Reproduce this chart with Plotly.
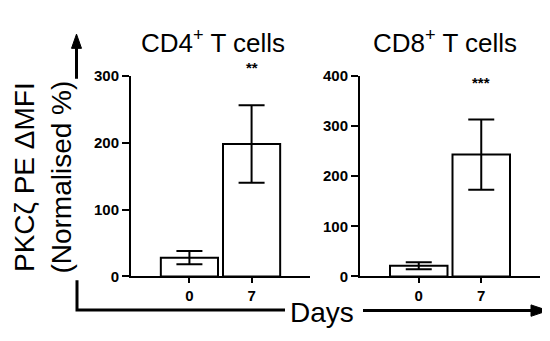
import plotly.graph_objects as go

# ---- data ----
days = ["0", "7"]
cd4_mean = [28, 198]
cd4_sem = [10, 58]
cd8_mean = [21, 243]
cd8_sem = [7, 70]
cd4_ticks = [0, 100, 200, 300]
cd8_ticks = [0, 100, 200, 300, 400]
cd4_sig = "**"
cd8_sig = "***"

W, H = 550, 341
FONT = "Liberation Sans, Arial, sans-serif"


def px(x):
    return x / W


def py(y):
    return 1 - y / H


fig = go.Figure()

bar_style = dict(marker=dict(color="white", line=dict(color="black", width=2)),
                 showlegend=False, hoverinfo="skip")
err_style = dict(type="data", visible=True, color="black", thickness=2, width=13)

fig.add_trace(go.Bar(x=days, y=cd4_mean, xaxis="x", yaxis="y",
                     error_y=dict(array=cd4_sem, **err_style), **bar_style))
fig.add_trace(go.Bar(x=days, y=cd8_mean, xaxis="x2", yaxis="y2",
                     error_y=dict(array=cd8_sem, **err_style), **bar_style))

tickfont = dict(family=FONT, size=15, color="black", weight="bold")
xcommon = dict(type="category", range=[-0.94, 1.94], showline=True, linecolor="black",
               linewidth=2, ticks="outside", ticklen=5, tickwidth=2, tickcolor="black",
               showgrid=False, zeroline=False, tickfont=tickfont)
ycommon = dict(showline=True, linecolor="black", linewidth=2, ticks="outside",
               ticklen=7, tickwidth=2, tickcolor="black", showgrid=False, zeroline=False,
               domain=[py(273), py(62)], ticklabelstandoff=0, tickfont=tickfont)

fig.update_layout(
    width=W, height=H,
    margin=dict(l=0, r=0, t=0, b=0),
    paper_bgcolor="white", plot_bgcolor="white",
    bargap=0.08,
    xaxis=dict(domain=[px(123), px(302)], anchor="y", **xcommon),
    yaxis=dict(range=[0, 300], tickvals=cd4_ticks, anchor="x", **ycommon),
    xaxis2=dict(domain=[px(352), px(532)], anchor="y2", **xcommon),
    yaxis2=dict(range=[0, 400], tickvals=cd8_ticks, anchor="x2", **ycommon),
)

sig_idx = days.index("7")

ann = []
# panel titles
ann.append(dict(text="CD4<sup>+</sup> T cells", xref="paper", yref="paper",
                x=px(205), y=py(26), xanchor="center", yanchor="middle", showarrow=False,
                font=dict(family=FONT, size=26, color="black")))
ann.append(dict(text="CD8<sup>+</sup> T cells", xref="paper", yref="paper",
                x=px(437), y=py(26), xanchor="center", yanchor="middle", showarrow=False,
                font=dict(family=FONT, size=26, color="black")))
# y title
ann.append(dict(text="PKCζ PE ΔMFI<br>(Normalised %)", xref="paper", yref="paper",
                x=px(35), y=py(168), xanchor="center", yanchor="middle", showarrow=False,
                textangle=-90, font=dict(family=FONT, size=28, color="black")))
# x title
ann.append(dict(text="Days", xref="paper", yref="paper",
                x=px(314), y=py(311), xanchor="center", yanchor="middle", showarrow=False,
                font=dict(family=FONT, size=28, color="black")))
# significance stars
ann.append(dict(text=cd4_sig, xref="x", yref="y", x=sig_idx, y=291, yshift=14,
                xanchor="center", yanchor="middle", showarrow=False,
                font=dict(family=FONT, size=15, color="black", weight="bold")))
ann.append(dict(text=cd8_sig, xref="x2", yref="y2", x=sig_idx, y=356, yshift=15,
                xanchor="center", yanchor="middle", showarrow=False,
                font=dict(family=FONT, size=15, color="black", weight="bold")))
fig.update_layout(annotations=ann)

line = dict(color="black", width=3)
shapes = [
    # up arrow
    dict(type="line", xref="paper", yref="paper", x0=px(68.5), x1=px(68.5),
         y0=py(65), y1=py(32), line=line),
    dict(type="path", xref="paper", yref="paper",
         path=f"M {px(63.5)} {py(33)} L {px(73.5)} {py(33)} L {px(68.5)} {py(18)} Z",
         fillcolor="black", line=dict(color="black", width=1)),
    # L bracket to Days
    dict(type="path", xref="paper", yref="paper",
         path=f"M {px(69)} {py(277)} L {px(69)} {py(308.5)} L {px(277)} {py(308.5)}",
         line=line),
    # right arrow
    dict(type="line", xref="paper", yref="paper", x0=px(355), x1=px(525),
         y0=py(309), y1=py(309), line=line),
    dict(type="path", xref="paper", yref="paper",
         path=f"M {px(523)} {py(303)} L {px(523)} {py(315)} L {px(540)} {py(309)} Z",
         fillcolor="black", line=dict(color="black", width=1)),
]
fig.update_layout(shapes=shapes)

fig.write_html("out.html")
